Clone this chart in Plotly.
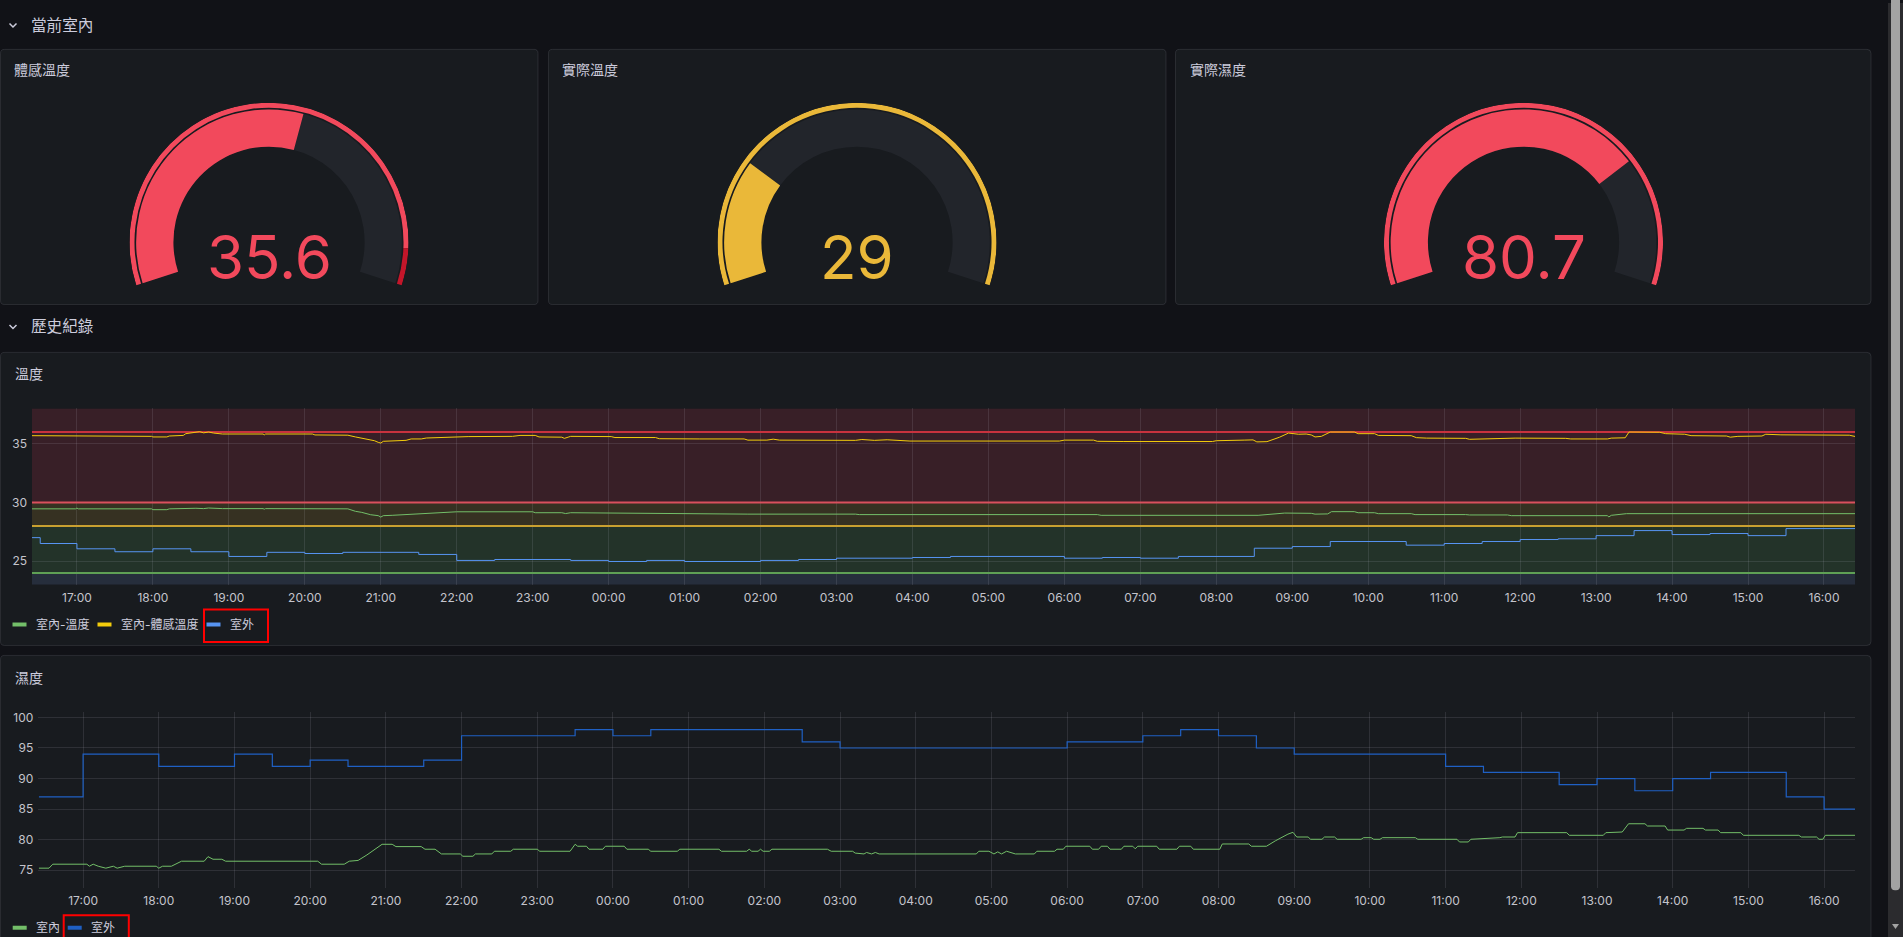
import plotly.graph_objects as go

W, H = 1903, 937

# ======================= DATA =======================
gauge_titles = ["體感溫度", "實際溫度", "實際濕度"]
gauge_values = [35.6, 29, 80.7]
gauge_value_labels = ["35.6", "29", "80.7"]
gauge_min = [0, 0, 0]
gauge_max = [62.5, 115, 108.6]
gauge_threshold_values = [[0, 58], [0], [0]]
gauge_threshold_colors = [["#F2495C", "#C4162A"], ["#EAB839"], ["#F2495C"]]

section_titles = ["當前室內", "歷史紀錄"]
chart_titles = ["溫度", "濕度"]

time_range = ["2024-07-01 16:24:30", "2024-07-02 16:24:30"]
time_tick0 = "2024-07-01 17:00"

temp_names = ["室內-溫度", "室內-體感溫度", "室外"]
temp_colors = ["#73BF69", "#F2CC0C", "#5794F2"]

temp_in_times = [
    "16:24", "16:59", "17:00", "17:01", "17:59", "18:00", "18:11", "18:13", "18:34", "18:40", "18:44", "18:55", "19:27", "19:28", "19:29",
    "20:34", "20:40", "20:45", "20:52", "20:58", "21:00", "21:02", "21:09", "21:20", "21:32", "21:48", "22:00", "23:00", "23:02", "23:23",
    "23:26", "23:30", "00:02", "00:05", "00:37", "00:40", "01:47", "01:50", "03:15", "03:18", "06:26", "06:29", "08:33", "08:40", "08:54",
    "09:15", "09:18", "09:28", "09:31", "09:49", "09:52", "10:05", "10:08", "10:34", "10:37", "11:17", "11:20", "11:50", "11:53", "13:09",
    "13:10", "13:12", "13:24", "16:25"]
temp_in_values = [
    29.45, 29.45, 29.52, 29.45, 29.45, 29.38, 29.38, 29.45, 29.50, 29.47, 29.52, 29.47, 29.47, 29.42, 29.47,
    29.45, 29.24, 29.15, 28.95, 28.87, 28.75, 28.87, 28.90, 28.96, 29.07, 29.15, 29.20, 29.20, 29.12, 29.12,
    29.05, 29.12, 29.10, 29.05, 29.05, 29.02, 29.02, 29.00, 29.00, 28.96, 28.96, 28.90, 28.90, 28.96, 29.09,
    29.07, 29.00, 29.02, 29.21, 29.21, 29.12, 29.12, 29.04, 29.04, 28.96, 28.96, 28.93, 28.93, 28.87, 28.87,
    28.76, 28.90, 29.04, 29.04]

feel_times = [
    "16:24", "16:59", "17:00", "17:59", "18:00", "18:11", "18:13", "18:24", "18:26", "18:34", "18:37", "18:40", "18:44", "18:48", "18:55",
    "19:27", "19:28", "19:29", "20:06", "20:08", "20:34", "20:40", "20:45", "20:50", "20:55", "20:58", "21:00", "21:02", "21:09", "21:20",
    "21:24", "21:32", "21:36", "21:48", "21:55", "22:09", "22:44", "22:50", "23:02", "23:05", "23:23", "23:25", "23:28", "23:30",
    "00:02", "00:05", "00:37", "00:40", "01:12", "01:47", "01:50", "02:05", "02:10", "02:15", "03:15", "03:20", "03:30", "03:40", "03:58",
    "04:47", "05:56", "06:00", "06:23", "06:26", "06:47", "07:57", "08:00", "08:22", "08:29", "08:32", "08:40", "08:50", "08:57",
    "09:05", "09:11", "09:15", "09:18", "09:23", "09:29", "09:30", "09:49", "09:52", "10:05", "10:08", "10:34", "10:38", "10:46",
    "11:17", "11:20", "11:32", "11:40", "11:56", "12:36", "12:40", "13:09", "13:12", "13:23", "13:26", "13:50", "13:55", "14:10",
    "14:15", "14:43", "14:46", "14:52", "15:11", "15:14", "15:26", "16:20", "16:25"]
feel_values = [
    35.68, 35.68, 35.62, 35.62, 35.57, 35.57, 35.65, 35.70, 35.85, 35.95, 36.02, 35.92, 35.99, 35.90, 35.82,
    35.82, 35.75, 35.82, 35.82, 35.74, 35.72, 35.57, 35.45, 35.31, 35.25, 35.11, 35.05, 35.20, 35.25, 35.28,
    35.40, 35.40, 35.48, 35.52, 35.57, 35.60, 35.62, 35.70, 35.70, 35.57, 35.55, 35.45, 35.55, 35.62,
    35.60, 35.52, 35.52, 35.42, 35.40, 35.40, 35.30, 35.30, 35.38, 35.30, 35.28, 35.35, 35.28, 35.33, 35.22,
    35.20, 35.22, 35.30, 35.30, 35.20, 35.18, 35.18, 35.25, 35.30, 35.32, 35.15, 35.17, 35.55, 35.90,
    35.80, 35.82, 35.74, 35.57, 35.62, 35.90, 35.99, 35.99, 35.85, 35.85, 35.70, 35.68, 35.51, 35.47,
    35.45, 35.37, 35.40, 35.48, 35.47, 35.45, 35.40, 35.40, 35.47, 35.50, 35.99, 35.97, 35.85, 35.80,
    35.68, 35.65, 35.55, 35.62, 35.65, 35.80, 35.75, 35.72, 35.60]

temp_out_times = [
    "16:24", "16:31", "17:00", "17:30", "18:00", "18:30", "19:00", "19:30", "20:00", "20:30", "21:30", "22:00", "22:30", "23:30",
    "00:00", "00:30", "01:00", "02:00", "02:30", "03:00", "04:00", "04:30", "06:00", "06:30", "07:00", "07:30", "08:30", "09:00",
    "09:30", "10:30", "11:00", "11:30", "12:00", "12:30", "13:00", "13:30", "14:00", "14:30", "15:00", "15:30", "16:25"]
temp_out_values = [
    27.00, 26.50, 26.05, 25.80, 26.05, 25.80, 25.40, 25.75, 25.65, 25.75, 25.57, 25.06, 25.14, 25.06,
    24.97, 25.06, 24.97, 25.06, 25.14, 25.25, 25.31, 25.40, 25.25, 25.31, 25.25, 25.40, 26.10, 26.24,
    26.67, 26.36, 26.50, 26.67, 26.84, 26.90, 27.17, 27.60, 27.26, 27.35, 27.17, 27.77, 27.77]

temp_y_range = [23, 38]
temp_thresholds = [24, 28, 30, 36]
temp_threshold_line_colors = ["#5fa055", "#c9a030", "#d9505d", "#c8323e"]
temp_threshold_fill_colors = ["#233329", "#363122", "#381f27", "#381f27"]
temp_base_fill = "#262e3c"

hum_names = ["室內", "室外"]
hum_colors = ["#73BF69", "#1F60C4"]

hum_in_times = [
    "16:25", "16:33", "16:36", "17:03", "17:05", "17:08", "17:12", "17:18", "17:24", "17:27", "17:33", "17:58", "18:00", "18:03", "18:10",
    "18:13", "18:18", "18:36", "18:39", "18:43", "18:50", "18:53", "20:06", "20:09", "20:27", "20:31", "20:38", "20:45", "20:52", "20:57",
    "21:05", "21:08", "21:28", "21:31", "21:39", "21:41", "21:44", "21:59", "22:01", "22:09", "22:11", "22:24", "22:26", "22:39", "22:41",
    "23:00", "23:02", "23:26", "23:30", "23:32", "23:39", "23:41", "23:52", "23:54", "00:09", "00:11", "00:28", "00:30", "00:51", "00:53",
    "01:24", "01:26", "01:46", "01:48", "01:50", "01:55", "01:57", "01:59", "02:04", "02:06", "02:50", "02:53", "03:10", "03:12", "03:19",
    "03:21", "03:25", "03:28", "03:31", "04:48", "04:50", "04:58", "05:02", "05:05", "05:08", "05:12", "05:19", "05:34", "05:36", "05:50",
    "05:52", "05:57", "05:59", "06:18", "06:20", "06:25", "06:27", "06:32", "06:34", "06:43", "06:45", "06:52", "06:54", "06:56", "07:11",
    "07:13", "07:27", "07:29", "07:38", "07:40", "08:01", "08:03", "08:24", "08:26", "08:38", "08:45", "08:50", "08:55", "08:59", "09:02",
    "09:11", "09:13", "09:22", "09:24", "09:32", "09:34", "09:53", "09:55", "10:01", "10:03", "10:08", "10:10", "10:36", "10:38", "11:09",
    "11:11", "11:18", "11:20", "11:43", "11:45", "11:55", "11:57", "12:36", "12:38", "13:05", "13:07", "13:20", "13:25", "13:38", "13:40",
    "13:54", "13:56", "14:09", "14:11", "14:24", "14:26", "14:36", "14:38", "14:54", "14:56", "15:40", "15:42", "15:54", "15:56", "15:59",
    "16:01", "16:25"]
hum_in_values = [
    75.33, 75.33, 75.98, 75.98, 75.65, 75.98, 75.65, 75.33, 75.65, 75.33, 75.65, 75.65, 75.33, 75.65, 75.65,
    76.00, 76.47, 76.47, 77.22, 76.79, 76.79, 76.47, 76.47, 75.98, 75.98, 76.47, 76.60, 77.50, 78.50, 79.24,
    79.24, 78.86, 78.86, 78.43, 78.43, 78.10, 77.66, 77.66, 77.28, 77.28, 77.66, 77.66, 78.10, 78.10, 78.43,
    78.43, 78.10, 78.10, 79.24, 78.92, 78.92, 78.43, 78.43, 78.92, 78.92, 78.43, 78.43, 78.10, 78.10, 78.43,
    78.43, 78.10, 78.10, 78.43, 78.10, 78.10, 78.43, 78.10, 78.10, 78.43, 78.43, 78.10, 78.10, 77.80, 77.66,
    77.90, 77.66, 77.90, 77.66, 77.66, 78.10, 78.10, 77.66, 78.00, 77.66, 78.10, 77.66, 77.66, 78.10, 78.10,
    78.43, 78.43, 78.92, 78.92, 78.43, 78.43, 78.92, 78.92, 78.43, 78.43, 78.92, 78.92, 78.50, 78.92, 78.92,
    78.43, 78.43, 78.92, 78.92, 78.43, 78.43, 79.29, 79.29, 78.92, 78.92, 79.80, 80.40, 80.90, 81.20, 80.43,
    80.43, 80.06, 80.06, 80.43, 80.43, 80.06, 80.06, 80.32, 80.32, 80.06, 80.06, 80.32, 80.32, 80.06, 80.06,
    79.62, 79.62, 80.06, 80.32, 80.43, 80.43, 81.14, 81.14, 80.71, 80.71, 81.14, 81.25, 82.60, 82.60, 82.23,
    82.23, 81.57, 81.57, 81.85, 81.85, 81.57, 81.57, 81.14, 81.14, 80.71, 80.71, 80.43, 80.43, 80.06, 80.06,
    80.71, 80.71]

hum_out_times = [
    "16:25", "17:00", "18:00", "19:00", "19:30", "20:00", "20:30", "21:30", "22:00", "23:30", "00:00", "00:30", "02:30", "03:00",
    "06:00", "07:00", "07:30", "08:00", "08:30", "09:00", "11:00", "11:30", "12:30", "13:00", "13:30", "14:00", "14:30", "15:30",
    "16:00", "16:25"]
hum_out_values = [
    87, 94, 92, 94, 92, 93, 92, 93, 97, 98, 97, 98, 96, 95,
    96, 97, 98, 97, 95, 94, 92, 91, 89, 90, 88, 90, 91, 87,
    85, 85]

hum_y_range = [72.06, 100.82]

assert len(temp_in_times) == len(temp_in_values)
assert len(feel_times) == len(feel_values)
assert len(temp_out_times) == len(temp_out_values)
assert len(hum_in_times) == len(hum_in_values)
assert len(hum_out_times) == len(hum_out_values)

# ======================= STYLE / LAYOUT CONSTANTS =======================
PAGE_BG = "#111217"
PANEL_BG = "#181b1f"
PANEL_BORDER = "rgba(204,204,220,0.12)"
TEXT = "#ccccdc"
TICK_TEXT = "#c4c4cc"
GRID = "rgba(204,204,220,0.12)"
FONT = "Inter, Noto Sans CJK TC, sans-serif"
GAUGE_TRACK = "#22252b"


def fx(px):
    return px / W


def fy(py):
    return 1 - py / H


def stamp(times):
    out, day, prev = [], 1, None
    for t in times:
        h, m = map(int, t.split(":"))
        if prev is not None and (h, m) < prev:
            day += 1
        prev = (h, m)
        out.append(f"2024-07-0{day} {h:02d}:{m:02d}")
    return out


def rrect_path(x0, y0, x1, y1, r=4):
    pts = [
        ("M", (x0 + r, y0)), ("L", (x1 - r, y0)), ("Q", (x1, y0), (x1, y0 + r)),
        ("L", (x1, y1 - r)), ("Q", (x1, y1), (x1 - r, y1)), ("L", (x0 + r, y1)),
        ("Q", (x0, y1), (x0, y1 - r)), ("L", (x0, y0 + r)), ("Q", (x0, y0), (x0 + r, y0)),
    ]
    s = ""
    for item in pts:
        cmd = item[0]
        coords = " ".join(f"{fx(p[0]):.6f},{fy(p[1]):.6f}" for p in item[1:])
        s += f"{cmd} {coords} "
    return s + "Z"


shapes = []
annotations = []

# page scrollbar
shapes.append(dict(type="rect", xref="paper", yref="paper", x0=fx(1888), x1=fx(1903), y0=fy(937), y1=fy(0),
                   fillcolor="#2b2b2e", line=dict(width=0), layer="below"))
shapes.append(dict(type="path", xref="paper", yref="paper",
                   path=rrect_path(1891, -10, 1900, 890, 4), fillcolor="#a3a3a3", line=dict(width=0), layer="below"))
shapes.append(dict(type="path", xref="paper", yref="paper",
                   path=f"M {fx(1892):.6f},{fy(924):.6f} L {fx(1899):.6f},{fy(924):.6f} L {fx(1895.5):.6f},{fy(929):.6f} Z",
                   fillcolor="#a3a3a3", line=dict(width=0), layer="below"))

# panels
panels = [(0.5, 46.5, 538, 302.5), (548.5, 46.5, 1166, 302.5), (1175.5, 46.5, 1871, 302.5),
          (0.5, 350.5, 1871, 644.5), (0.5, 654.5, 1871, 990)]
for (x0, y0, x1, y1) in panels:
    shapes.append(dict(type="path", xref="paper", yref="paper", path=rrect_path(x0, y0, x1, y1, 4),
                       fillcolor=PANEL_BG, line=dict(color=PANEL_BORDER, width=1), layer="below"))

# section headers
for title, yc in zip(section_titles, [22.5, 325]):
    shapes.append(dict(type="path", xref="paper", yref="paper",
                       path=f"M {fx(9.5):.6f},{fy(yc - 2):.6f} L {fx(13):.6f},{fy(yc + 1.5):.6f} L {fx(16.5):.6f},{fy(yc - 2):.6f}",
                       line=dict(color=TEXT, width=1.5), layer="below"))
    annotations.append(dict(text=title, x=fx(29), y=fy(yc), xref="paper", yref="paper", xanchor="left",
                            yanchor="middle", showarrow=False, font=dict(family=FONT, size=15.6, color=TEXT)))

# panel titles
for title, (px, py) in zip(gauge_titles + chart_titles,
                           [(12, 67), (560, 67), (1188, 67), (12.5, 372), (12.5, 677)]):
    annotations.append(dict(text=title, x=fx(px), y=fy(py), xref="paper", yref="paper", xanchor="left",
                            yanchor="middle", showarrow=False, font=dict(family=FONT, size=14, color=TEXT)))

fig = go.Figure()

# ======================= GAUGES =======================
SPAN = 216.0
GAUGE_CX = [269, 857, 1523.5]
GAUGE_CY = 240
GAUGE_R = 140
BAND_IN, BAND_OUT = 0.685, 0.952
RING_IN, RING_OUT = 0.964, 1.0

for i in range(3):
    sub = "polar" if i == 0 else f"polar{i + 1}"
    mn, mx, v = gauge_min[i], gauge_max[i], gauge_values[i]
    steps = gauge_threshold_values[i]
    cols = gauge_threshold_colors[i]
    vcolor = cols[0]
    for s, c in zip(steps, cols):
        if v >= s:
            vcolor = c
    frac = (v - mn) / (mx - mn)
    thetas, widths, bases, rs, colors = [], [], [], [], []
    thetas.append(SPAN / 2); widths.append(SPAN); bases.append(BAND_IN); rs.append(BAND_OUT - BAND_IN); colors.append(GAUGE_TRACK)
    thetas.append(frac * SPAN / 2); widths.append(frac * SPAN); bases.append(BAND_IN); rs.append(BAND_OUT - BAND_IN); colors.append(vcolor)
    for j, (s, c) in enumerate(zip(steps, cols)):
        e = steps[j + 1] if j + 1 < len(steps) else mx
        a0 = (s - mn) / (mx - mn) * SPAN
        a1 = (e - mn) / (mx - mn) * SPAN
        thetas.append((a0 + a1) / 2); widths.append(a1 - a0); bases.append(RING_IN); rs.append(RING_OUT - RING_IN); colors.append(c)
    for k in range(len(thetas)):
        fig.add_trace(go.Barpolar(r=[rs[k]], base=[bases[k]], theta=[thetas[k]], width=[widths[k]],
                                  marker=dict(color=colors[k], line=dict(width=0)), subplot=sub,
                                  hoverinfo="skip", showlegend=False))
    cx = GAUGE_CX[i]
    fig.layout[sub] = dict(
        domain=dict(x=[fx(cx - GAUGE_R), fx(cx + GAUGE_R)], y=[fy(GAUGE_CY + GAUGE_R), fy(GAUGE_CY - GAUGE_R)]),
        bgcolor="rgba(0,0,0,0)", barmode="overlay", hole=0,
        radialaxis=dict(range=[0, 1], visible=False),
        angularaxis=dict(rotation=198, direction="clockwise", visible=False),
    )
    annotations.append(dict(text=gauge_value_labels[i], x=fx(cx), y=fy(GAUGE_CY + 15), xref="paper", yref="paper",
                            xanchor="center", yanchor="middle", showarrow=False,
                            font=dict(family=FONT, size=60, color=vcolor)))

# ======================= TIME SERIES =======================
for t, c in zip(temp_thresholds, temp_threshold_line_colors):
    fig.add_trace(go.Scatter(x=time_range, y=[t, t], mode="lines", line=dict(color=c, width=2),
                             xaxis="x", yaxis="y", hoverinfo="skip", showlegend=False))

fig.add_trace(go.Scatter(x=stamp(temp_in_times), y=temp_in_values, mode="lines", line=dict(color=temp_colors[0], width=1),
                         xaxis="x", yaxis="y", hoverinfo="skip", showlegend=False))
fig.add_trace(go.Scatter(x=stamp(feel_times), y=feel_values, mode="lines", line=dict(color=temp_colors[1], width=1),
                         xaxis="x", yaxis="y", hoverinfo="skip", showlegend=False))
fig.add_trace(go.Scatter(x=stamp(temp_out_times), y=temp_out_values, mode="lines", line=dict(color=temp_colors[2], width=1, shape="hv"),
                         xaxis="x", yaxis="y", hoverinfo="skip", showlegend=False))
fig.add_trace(go.Scatter(x=stamp(hum_in_times), y=hum_in_values, mode="lines", line=dict(color=hum_colors[0], width=1),
                         xaxis="x2", yaxis="y2", hoverinfo="skip", showlegend=False))
fig.add_trace(go.Scatter(x=stamp(hum_out_times), y=hum_out_values, mode="lines", line=dict(color=hum_colors[1], width=1.2, shape="hv"),
                         xaxis="x2", yaxis="y2", hoverinfo="skip", showlegend=False))

bounds = [temp_y_range[0]] + temp_thresholds + [temp_y_range[1]]
fills = [temp_base_fill] + temp_threshold_fill_colors
for k in range(len(fills)):
    shapes.append(dict(type="rect", xref="x domain", yref="y", x0=0, x1=1, y0=bounds[k], y1=bounds[k + 1],
                       fillcolor=fills[k], line=dict(width=0), layer="below"))

axis_font = dict(family=FONT, size=12, color=TICK_TEXT)
xcommon = dict(type="date", range=time_range, tick0=time_tick0, dtick=3600000, tickformat="%H:%M",
               showgrid=True, gridcolor=GRID, gridwidth=1, zeroline=False, showline=False, ticks="",
               tickfont=axis_font, ticklabelstandoff=4, fixedrange=True)
ycommon = dict(showgrid=True, gridcolor=GRID, gridwidth=1, zeroline=False, showline=False, ticks="",
               tickfont=axis_font, dtick=5, tick0=0, ticklabelstandoff=4, fixedrange=True)

fig.update_layout(
    xaxis=dict(domain=[fx(32), fx(1855)], anchor="y", **xcommon),
    yaxis=dict(domain=[fy(583.5), fy(406.7)], anchor="x", range=temp_y_range, **ycommon),
    xaxis2=dict(domain=[fx(38.3), fx(1855)], anchor="y2", **xcommon),
    yaxis2=dict(domain=[fy(888), fy(711.7)], anchor="x2", range=hum_y_range, **ycommon),
)


def text_width(s, size=12):
    return sum(size if ord(ch) > 0x2E80 else size * 0.5 for ch in s)


def build_legend(names, colors, x_start, yc):
    x = x_start
    for name, col in zip(names, colors):
        shapes.append(dict(type="rect", xref="paper", yref="paper", x0=fx(x), x1=fx(x + 14), y0=fy(yc + 2), y1=fy(yc - 2),
                           fillcolor=col, line=dict(width=0), layer="above"))
        annotations.append(dict(text=name, x=fx(x + 21), y=fy(yc), xref="paper", yref="paper", xanchor="left",
                                yanchor="middle", showarrow=False, font=dict(family=FONT, size=12, color=TEXT)))
        x = x + 21 + text_width(name) + 10


build_legend(temp_names, temp_colors, 12.5, 623.5)
build_legend(hum_names, hum_colors, 12.7, 927.7)

for (x0, y0, x1, y1) in [(204, 608.5, 268, 641), (63.7, 915.3, 128.8, 950)]:
    shapes.append(dict(type="rect", xref="paper", yref="paper", x0=fx(x0), x1=fx(x1), y0=fy(y1), y1=fy(y0),
                       line=dict(color="#ff0000", width=2), fillcolor="rgba(0,0,0,0)", layer="above"))

fig.update_layout(
    width=W, height=H, margin=dict(l=0, r=0, t=0, b=0, pad=0),
    paper_bgcolor=PAGE_BG, plot_bgcolor="rgba(0,0,0,0)",
    font=dict(family=FONT, color=TEXT), showlegend=False,
    shapes=shapes, annotations=annotations, hovermode=False,
)

fig.write_html("out.html", config={"displayModeBar": False, "staticPlot": True},
               post_script="document.body.style.margin='0';document.body.style.overflow='hidden';")
